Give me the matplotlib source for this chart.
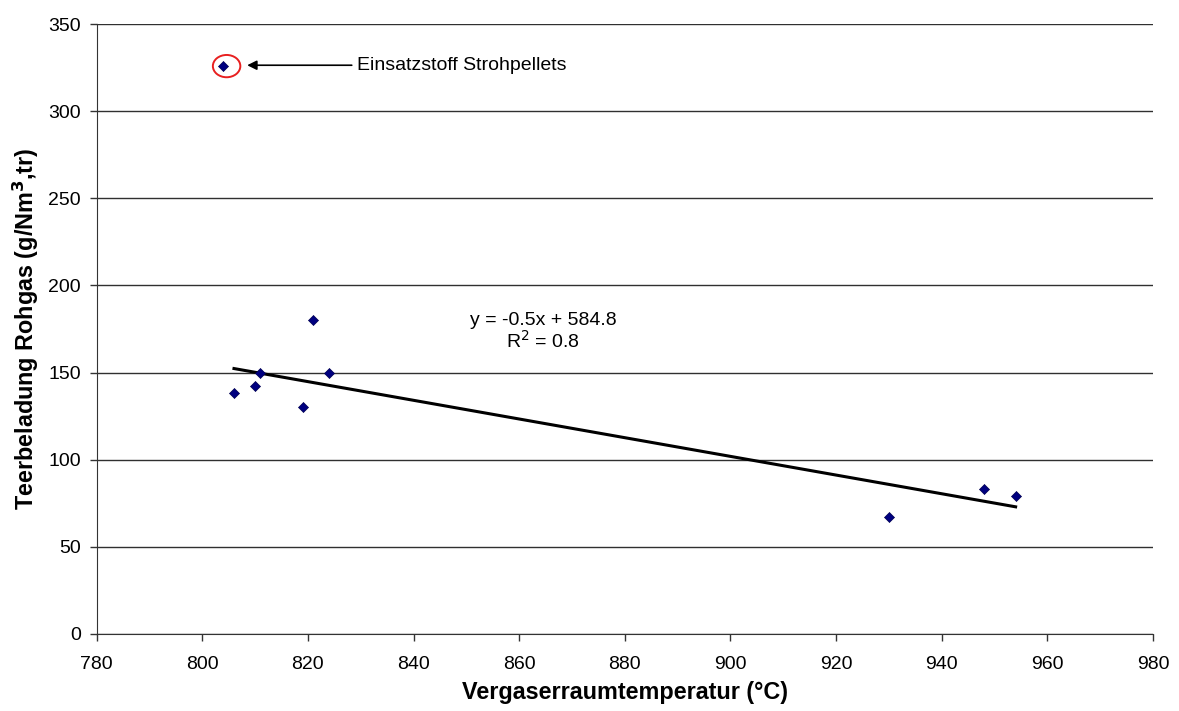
import numpy as np
import matplotlib
matplotlib.use("Agg")
import matplotlib.pyplot as plt
from matplotlib.patches import Ellipse

plt.rcParams['font.family'] = ['Liberation Sans', 'DejaVu Sans']

# Data
temp = [804, 806, 810, 811, 819, 821, 824, 930, 948, 954]
tar = [326, 138, 142, 150, 130, 180, 150, 67, 83, 79]
outlier_idx = 0
xticks = list(range(780, 981, 20))
yticks = list(range(0, 351, 50))

fig = plt.figure(figsize=(11.79, 7.11), dpi=100)
ax = fig.add_axes([0.0820, 0.1087, 0.8959, 0.8571])

ax.scatter(temp, tar, marker='D', s=26, color='#000080', edgecolors='#000050',
           linewidths=0.5, zorder=3)

fx = np.array([t for i, t in enumerate(temp) if i != outlier_idx])
fy = np.array([v for i, v in enumerate(tar) if i != outlier_idx])
m, b = np.polyfit(fx, fy, 1)
xs = np.array([fx.min(), fx.max()])
ax.plot(xs, m * xs + b, color='black', lw=2.2, zorder=2)

ax.text(864.5, 184.6, f"y = {m:.1f}x + {b:.1f}\nR$^2$ = 0.8", ha='center', va='top',
        multialignment='center', linespacing=1.05, fontsize=14)

# outlier highlight
ax.add_patch(Ellipse((804.6, tar[outlier_idx]), 5.2, 12.8, fill=False,
                     edgecolor='#e82020', lw=1.4, zorder=4))
ax.annotate("", xy=(808.5, 326.5), xytext=(828.3, 326.5),
            arrowprops=dict(arrowstyle='-|>', color='black', lw=1.2,
                            mutation_scale=14, shrinkA=0, shrinkB=0))
ax.text(829.3, 326.5, "Einsatzstoff Strohpellets", ha='left', va='center', fontsize=14)

ax.set_xlim(780, 980)
ax.set_ylim(0, 350)
ax.set_xticks(xticks)
ax.set_yticks(yticks)
ax.tick_params(labelsize=14, direction='out', length=5, color='#333333', width=1.0)
ax.tick_params(axis='x', pad=11)
ax.tick_params(axis='y', pad=6.5)
ax.grid(axis='y', color='#303030', lw=1.0)
ax.set_axisbelow(True)
for s in ['top', 'right']:
    ax.spines[s].set_visible(False)
ax.spines['left'].set_color('#333333')
ax.spines['bottom'].set_color('#333333')

ax.set_xlabel("Vergaserraumtemperatur (°C)", fontsize=16.8, fontweight='bold')
ax.xaxis.set_label_coords(0.5, -0.077)
ax.set_ylabel("Teerbeladung Rohgas (g/Nm$^\\mathbf{3}$,tr)", fontsize=16.8, fontweight='bold',
              va='center')
ax.yaxis.set_label_coords(-0.067, 0.5)

fig.savefig("out.png", dpi=100)
